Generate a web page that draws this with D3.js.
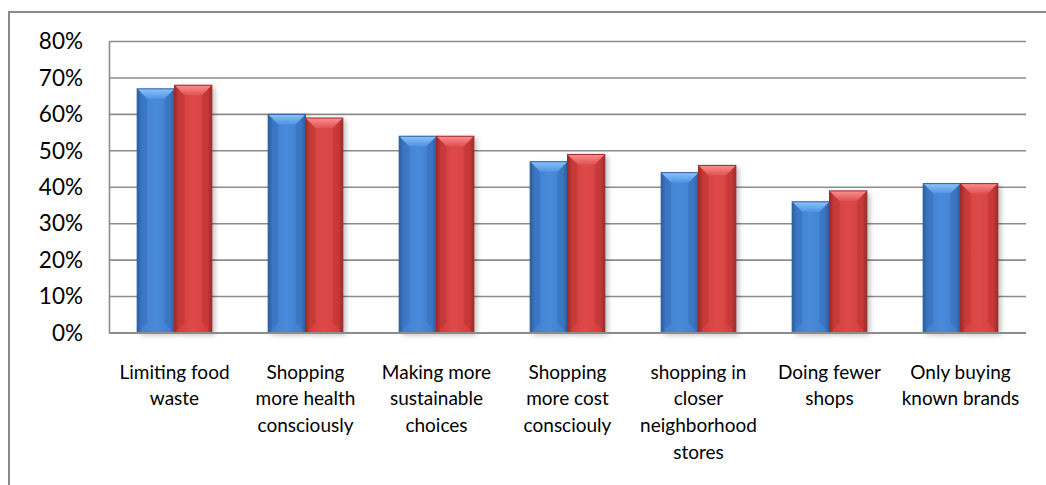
<!DOCTYPE html>
<html><head><meta charset="utf-8">
<script src="https://cdn.jsdelivr.net/npm/d3@7"></script>
<style>body{margin:0;background:#fff}svg{display:block}</style>
</head><body>
<svg id="c" width="1046" height="485"></svg>
<script>
const categories = ["Limiting food waste","Shopping more health consciously","Making more sustainable choices","Shopping more cost consciouly","shopping in closer neighborhood stores","Doing fewer shops","Only buying known brands"];
const categoryLines = [["Limiting food","waste"],["Shopping","more health","consciously"],["Making more","sustainable","choices"],["Shopping","more cost","consciouly"],["shopping in","closer","neighborhood","stores"],["Doing fewer","shops"],["Only buying","known brands"]];
const seriesNames = ["Series 1","Series 2"];
const series1 = [0.67,0.60,0.54,0.47,0.44,0.36,0.41];
const series2 = [0.68,0.59,0.54,0.49,0.46,0.39,0.41];
const yTicks = [0,0.1,0.2,0.3,0.4,0.5,0.6,0.7,0.8];

const svg = d3.select("#c");
const L=109, R=1026, T=41.5, B=333;
const font = "Lato, 'Open Sans', sans-serif";

const defs = svg.append("defs");
const pal = [
  {id:"b", edge:"#2d5e9e", mid:"#3f80d2", light:"#4a8ada", top1:"#8cc4fb", top2:"#4f93e3"},
  {id:"r", edge:"#9e2a2a", mid:"#d63f3f", light:"#dc4a4a", top1:"#fb8f8f", top2:"#e05252"}
];
pal.forEach(p=>{
  const g = defs.append("linearGradient").attr("id","g"+p.id).attr("x1",0).attr("x2",1).attr("y1",0).attr("y2",0);
  [[0,p.edge],[0.12,p.mid],[0.5,p.light],[0.88,p.mid],[1,p.edge]].forEach(s=>g.append("stop").attr("offset",s[0]).attr("stop-color",s[1]));
  const t = defs.append("linearGradient").attr("id","t"+p.id).attr("x1",0).attr("x2",0).attr("y1",0).attr("y2",1);
  t.append("stop").attr("offset",0).attr("stop-color",p.top1);
  t.append("stop").attr("offset",1).attr("stop-color",p.top2);
});
const f = defs.append("filter").attr("id","sh").attr("x","-20%").attr("y","-10%").attr("width","150%").attr("height","130%");
f.append("feDropShadow").attr("dx",3).attr("dy",2).attr("stdDeviation",2.5).attr("flood-color","#000").attr("flood-opacity",0.25);

// outer frame
svg.append("rect").attr("x",9).attr("y",12).attr("width",1100).attr("height",600)
  .attr("fill","none").attr("stroke","#8a8a8a").attr("stroke-width",2);

const y = d3.scaleLinear().domain([0,0.8]).range([B,T]);
const x0 = d3.scaleBand().domain(categories).range([L,R]).paddingInner(0.43).paddingOuter(0.215);
const x1 = d3.scaleBand().domain(seriesNames).range([0,x0.bandwidth()]);

// gridlines
svg.append("g").selectAll("line").data(yTicks).join("line")
  .attr("x1",L).attr("x2",R).attr("y1",d=>y(d)).attr("y2",d=>y(d))
  .attr("stroke","#8c8c8c").attr("stroke-width",1.6);

// y axis
const ya = svg.append("g").attr("transform",`translate(${L},0)`)
  .call(d3.axisLeft(y).tickValues(yTicks).tickFormat(d3.format(".0%")).tickSize(0).tickPadding(26));
ya.select(".domain").attr("stroke","#8c8c8c").attr("stroke-width",1.6);
ya.selectAll("text").attr("font-family",font).attr("font-size",22.5).attr("fill","#000");

// bars
const data = categories.map((c,i)=>({c, vals:[series1[i],series2[i]]}));
const grp = svg.append("g").selectAll("g").data(data).join("g")
  .attr("transform",d=>`translate(${x0(d.c)},0)`);
const bars = grp.selectAll("g").data(d=>d.vals.map((v,j)=>({v,s:seriesNames[j],p:pal[j]}))).join("g");
bars.append("rect").attr("x",d=>x1(d.s)).attr("y",d=>y(d.v)).attr("width",x1.bandwidth()).attr("height",d=>B-y(d.v))
  .attr("fill",d=>`url(#g${d.p.id})`).attr("filter","url(#sh)");
const bev = 10;
bars.append("path").attr("d",d=>{
  const xa=x1(d.s), w=x1.bandwidth(), yt=y(d.v);
  return `M${xa},${yt}L${xa+w},${yt}L${xa+w-bev},${yt+bev}L${xa+bev},${yt+bev}Z`;
}).attr("fill",d=>`url(#t${d.p.id})`);
bars.append("path").attr("d",d=>{
  const xa=x1(d.s), w=x1.bandwidth(), yt=y(d.v);
  return `M${xa},${yt}L${xa+bev},${yt+bev}L${xa+bev},${B-bev}L${xa},${B}Z`;
}).attr("fill",d=>d.p.edge).attr("opacity",0.3);
bars.append("path").attr("d",d=>{
  const xa=x1(d.s), w=x1.bandwidth(), yt=y(d.v);
  return `M${xa+w},${yt}L${xa+w-bev},${yt+bev}L${xa+w-bev},${B-bev}L${xa+w},${B}Z`;
}).attr("fill",d=>d.p.edge).attr("opacity",0.3);
bars.append("rect").attr("x",d=>x1(d.s)).attr("y",d=>y(d.v)).attr("width",x1.bandwidth()).attr("height",d=>B-y(d.v))
  .attr("fill","none").attr("stroke",d=>d.p.edge).attr("stroke-width",1);

// x axis line
svg.append("line").attr("x1",L).attr("x2",R).attr("y1",B).attr("y2",B).attr("stroke","#8c8c8c").attr("stroke-width",2);

// category labels
const lab = svg.append("g").selectAll("text").data(categories).join("text")
  .attr("x",d=>x0(d)+x0.bandwidth()/2).attr("y",372)
  .attr("text-anchor","middle").attr("font-family",font).attr("font-size",19).attr("fill","#000");
lab.each(function(d,i){
  d3.select(this).selectAll("tspan").data(categoryLines[i]).join("tspan")
    .attr("x",x0(d)+x0.bandwidth()/2).attr("dy",(t,k)=>k===0?"0.35em":"26.7px").text(t=>t);
});
</script>
</body></html>
